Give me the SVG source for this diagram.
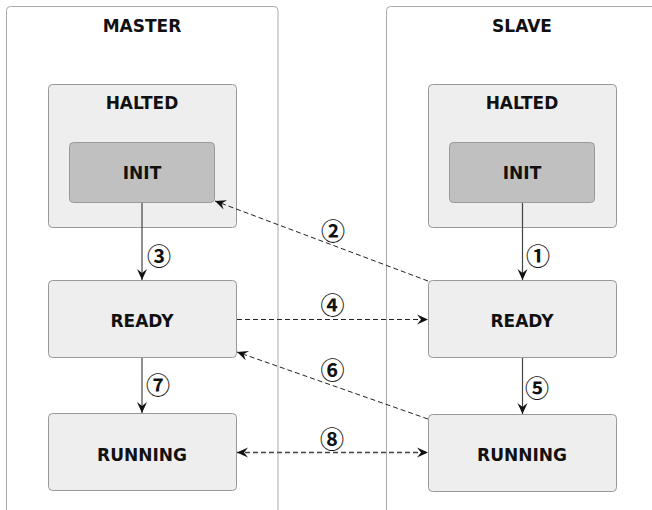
<svg xmlns="http://www.w3.org/2000/svg" width="652" height="510" viewBox="0 0 652 510">
<style>
.cont{fill:#ffffff;stroke:#aaaaaa;stroke-width:1}
.box{fill:#eeeeee;stroke:#999999;stroke-width:1}
.init{fill:#c0c0c0;stroke:#999999;stroke-width:1}
.lbl{font-family:"DejaVu Sans",sans-serif;font-weight:bold;font-size:17px;fill:#111111;text-anchor:middle}
.num{font-family:"Noto Sans CJK JP","DejaVu Sans",sans-serif;font-size:24px;font-weight:bold;fill:#111111;text-anchor:middle;dominant-baseline:central}
.solid{fill:none;stroke:#444444;stroke-width:1.2}
.dash{fill:none;stroke:#222222;stroke-width:1;stroke-dasharray:5 3}
.dash2{fill:none;stroke:#444444;stroke-width:1.6;stroke-dasharray:5 3}
</style>
<defs>
<marker id="ah" viewBox="-12 -6 14 12" refX="0" refY="0" markerWidth="14" markerHeight="12" markerUnits="userSpaceOnUse" orient="auto-start-reverse">
<polygon points="0,0 -11,-5 -7,0 -11,5" fill="#111111"/>
</marker>
</defs>
<g id="master">
<rect class="cont" x="6.5" y="6.5" width="271.5" height="530" rx="4"/>
<text class="lbl" x="142" y="32">MASTER</text>
</g>
<g id="slave">
<rect class="cont" x="386.5" y="6.5" width="290" height="530" rx="4"/>
<text class="lbl" x="522" y="32">SLAVE</text>
</g>
<g id="master-halted">
<rect class="box" x="48.5" y="84.5" width="188" height="143" rx="4"/>
<text class="lbl" x="142" y="109">HALTED</text>
</g>
<g id="master-init">
<rect class="init" x="69.5" y="142.5" width="145" height="60" rx="4"/>
<text class="lbl" x="142" y="179">INIT</text>
</g>
<g id="slave-halted">
<rect class="box" x="428.5" y="84.5" width="188" height="143" rx="4"/>
<text class="lbl" x="522" y="109">HALTED</text>
</g>
<g id="slave-init">
<rect class="init" x="449.5" y="142.5" width="145" height="60" rx="4"/>
<text class="lbl" x="522" y="179">INIT</text>
</g>
<g id="master-ready">
<rect class="box" x="48.5" y="280.5" width="188" height="77" rx="4"/>
<text class="lbl" x="142" y="327">READY</text>
</g>
<g id="slave-ready">
<rect class="box" x="428.5" y="280.5" width="188" height="77" rx="4"/>
<text class="lbl" x="522" y="327">READY</text>
</g>
<g id="master-running">
<rect class="box" x="48.5" y="413.5" width="188" height="77" rx="4"/>
<text class="lbl" x="142" y="461">RUNNING</text>
</g>
<g id="slave-running">
<rect class="box" x="428.5" y="414.5" width="188" height="77" rx="4"/>
<text class="lbl" x="522" y="461">RUNNING</text>
</g>
<g id="connectors">
<path class="solid" d="M522.5,203 L522.5,280" marker-end="url(#ah)"/>
<path class="dash" d="M428,281 L215,201" marker-end="url(#ah)"/>
<path class="solid" d="M142,203 L142,280" marker-end="url(#ah)"/>
<path class="dash" d="M237,319.5 L428,319.5" marker-end="url(#ah)"/>
<path class="solid" d="M522.5,358 L522.5,414" marker-end="url(#ah)"/>
<path class="dash" d="M428,419 L237,352" marker-end="url(#ah)"/>
<path class="solid" d="M142,358 L142,413" marker-end="url(#ah)"/>
<path class="dash2" d="M237,452.5 L428,452.5" marker-start="url(#ah)" marker-end="url(#ah)"/>
<text class="num" x="538" y="254">①</text>
<text class="num" x="333" y="229">②</text>
<text class="num" x="159" y="254">③</text>
<text class="num" x="332.5" y="303.5">④</text>
<text class="num" x="537" y="386">⑤</text>
<text class="num" x="332.5" y="368">⑥</text>
<text class="num" x="158" y="383">⑦</text>
<text class="num" x="332" y="437.5">⑧</text>
</g>
</svg>
